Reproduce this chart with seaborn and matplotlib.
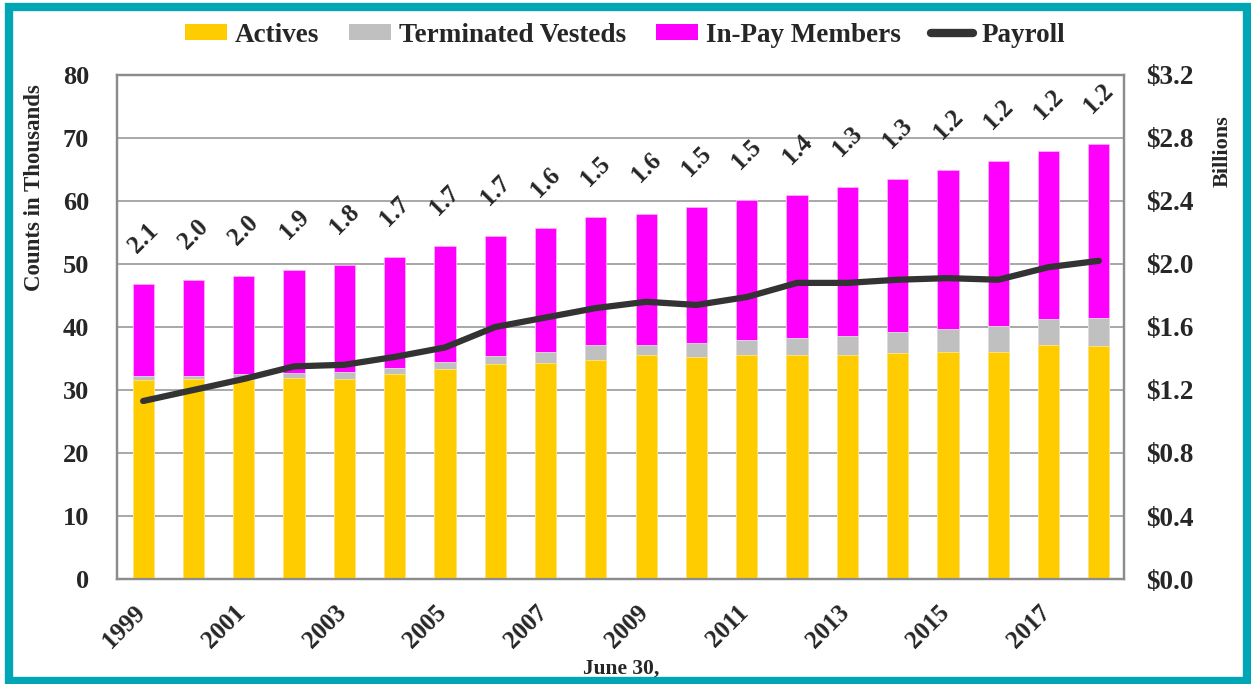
import matplotlib
matplotlib.use("Agg")
import matplotlib.pyplot as plt
import seaborn as sns
import pandas as pd
from matplotlib.patches import Rectangle, Patch
from matplotlib.lines import Line2D
from matplotlib.ticker import FuncFormatter
from matplotlib.transforms import ScaledTranslation

years = list(range(1999, 2019))
actives = [31.6, 31.7, 31.6, 31.9, 31.8, 32.5, 33.3, 34.2, 34.3, 34.7,
           35.5, 35.2, 35.6, 35.5, 35.6, 35.8, 36.0, 36.1, 37.1, 37.0]
terminated = [0.6, 0.6, 0.9, 0.8, 1.0, 1.0, 1.1, 1.2, 1.8, 2.5,
              1.7, 2.3, 2.4, 2.7, 3.0, 3.4, 3.7, 4.1, 4.1, 4.4]
inpay = [14.6, 15.2, 15.6, 16.3, 17.0, 17.6, 18.5, 19.0, 19.6, 20.2,
         20.8, 21.5, 22.1, 22.8, 23.6, 24.3, 25.2, 26.2, 26.8, 27.6]
payroll = [1.13, 1.20, 1.27, 1.35, 1.36, 1.41, 1.47, 1.60, 1.66, 1.72,
           1.76, 1.74, 1.79, 1.88, 1.88, 1.90, 1.91, 1.90, 1.98, 2.02]
ratio_labels = ["2.1", "2.0", "2.0", "1.9", "1.8", "1.7", "1.7", "1.7", "1.6", "1.5",
                "1.6", "1.5", "1.5", "1.4", "1.3", "1.3", "1.2", "1.2", "1.2", "1.2"]

C_ACT = "#FFCC00"
C_TERM = "#C0C0C0"
C_INPAY = "#FF00FF"
C_PAY = "#333333"
TEAL = "#00A6B6"

sns.set_style("white")
plt.rcParams["font.family"] = ["Liberation Serif", "DejaVu Serif"]
plt.rcParams["font.weight"] = "bold"

df = pd.DataFrame({
    "year": [str(y) for y in years],
    "actives": actives,
    "term_top": [a + t for a, t in zip(actives, terminated)],
    "total": [a + t + i for a, t, i in zip(actives, terminated, inpay)],
    "payroll": payroll,
    "pos": list(range(len(years))),
})

fig = plt.figure(figsize=(12.51, 6.84), dpi=100)
ax = fig.add_axes([0.0935, 0.1535, 0.805, 0.7369])

bw = 0.42
sns.barplot(data=df, x="year", y="total", color=C_INPAY, width=bw, ax=ax,
            saturation=1, edgecolor="#FFB0FF", linewidth=0.6, zorder=2)
sns.barplot(data=df, x="year", y="term_top", color=C_TERM, width=bw, ax=ax,
            saturation=1, edgecolor="#E0E0E0", linewidth=0.6, zorder=3)
sns.barplot(data=df, x="year", y="actives", color=C_ACT, width=bw, ax=ax,
            saturation=1, edgecolor="#FFE680", linewidth=0.6, zorder=4)

ax.set_ylim(0, 80)
ax.set_xlim(-0.52, 19.5)
ax.set_yticks(range(0, 81, 10))
ax.yaxis.grid(True, color="#999999", linewidth=1.2, zorder=0)
ax.set_axisbelow(True)
for s in ax.spines.values():
    s.set_color("#8C8C8C")
    s.set_linewidth(1.6)
ax.tick_params(axis="y", length=0, pad=20, labelsize=19)
ax.set_xticks(range(0, len(years), 2))
ax.set_xticklabels([str(y) for y in years[::2]], rotation=45, ha="right",
                   rotation_mode="anchor", fontsize=18, fontweight="bold")
ax.tick_params(axis="x", length=0, pad=16)
offset = ScaledTranslation(-10 / 100, 0, fig.dpi_scale_trans)
for lab in ax.get_xticklabels():
    lab.set_transform(lab.get_transform() + offset)
for lab in ax.get_yticklabels():
    lab.set_fontweight("bold")
ax.set_xlabel("")
ax.set_ylabel("")

for i, (tot, lab) in enumerate(zip(df["total"], ratio_labels)):
    ax.annotate(lab, xy=(i, tot), xytext=(0, 33), textcoords="offset points",
                ha="center", va="center", rotation=45, fontsize=18,
                fontweight="bold", zorder=6)

ax2 = ax.twinx()
sns.lineplot(data=df, x="pos", y="payroll", color=C_PAY, linewidth=4.5,
             ax=ax2, zorder=5, solid_capstyle="round")
ax2.set_ylim(0, 3.2)
ax2.set_xlim(-0.52, 19.5)
ax2.set_yticks([0.4 * k for k in range(9)])
ax2.yaxis.set_major_formatter(FuncFormatter(lambda v, p: f"${v:.1f}"))
ax2.tick_params(axis="y", length=0, pad=16, labelsize=19.5)
for lab in ax2.get_yticklabels():
    lab.set_fontweight("bold")
ax2.set_ylabel("")
ax2.set_xlabel("")
for s in ax2.spines.values():
    s.set_color("#8C8C8C")
    s.set_linewidth(1.6)

fig.text(35 / 1251, 1 - 188 / 684, "Counts in Thousands", rotation=90,
         ha="center", va="center", fontsize=16.5, fontweight="bold")
fig.text(1223 / 1251, 1 - 151 / 684, "Billions", rotation=90,
         ha="center", va="center", fontsize=16, fontweight="bold")
fig.text(621 / 1251, 1 - 669 / 684, "June 30,", ha="center", va="center",
         fontsize=15.5, fontweight="bold")

handles = [
    Patch(facecolor=C_ACT, edgecolor="none"),
    Patch(facecolor=C_TERM, edgecolor="none"),
    Patch(facecolor=C_INPAY, edgecolor="none"),
    Line2D([0], [0], color=C_PAY, linewidth=6, solid_capstyle="round"),
]
fig.legend(handles, ["Actives", "Terminated Vesteds", "In-Pay Members", "Payroll"],
           loc="center", bbox_to_anchor=(625 / 1251, 1 - 35 / 684), ncol=4, frameon=False,
           prop={"size": 19.5, "weight": "bold"}, handlelength=1.55, handleheight=0.55,
           handletextpad=0.3, columnspacing=1.1)

fig.patches.append(Rectangle((0.0075, 0.004), 0.9895, 0.986, transform=fig.transFigure,
                             fill=False, edgecolor=TEAL, linewidth=6, zorder=10))

fig.savefig("out.png", dpi=100)
